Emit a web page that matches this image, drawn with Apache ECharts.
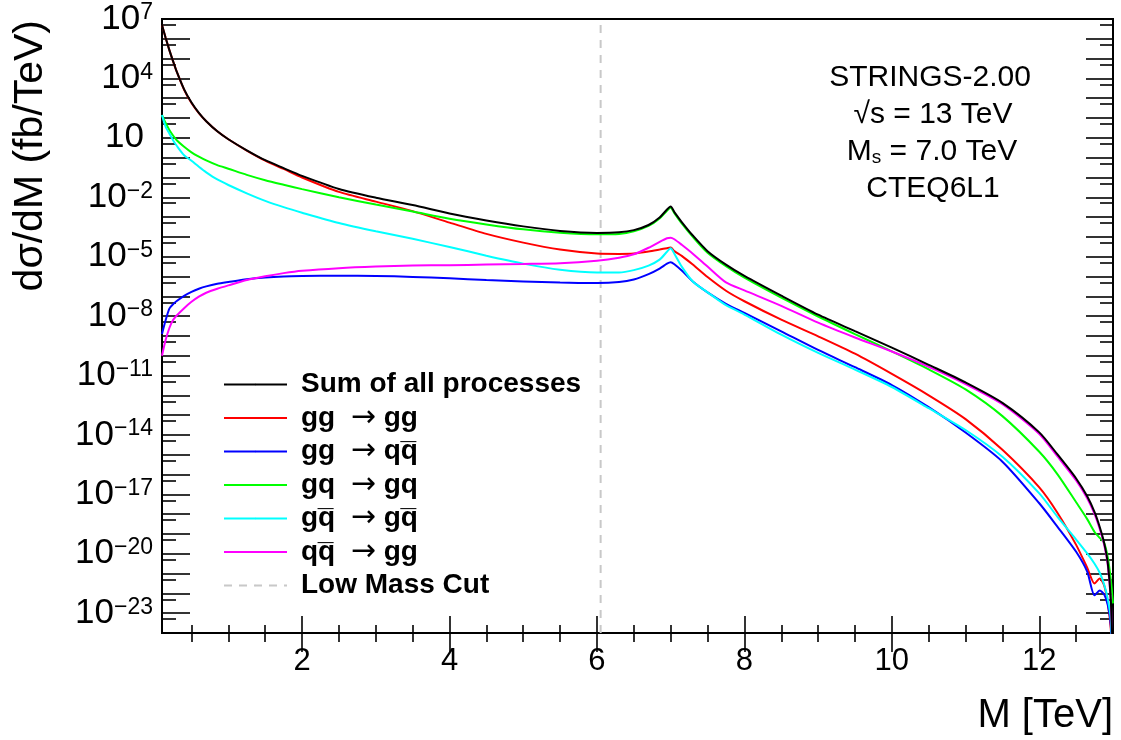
<!DOCTYPE html>
<html>
<head>
<meta charset="utf-8">
<title>String resonances: dσ/dM</title>
<script src="https://cdn.jsdelivr.net/npm/echarts@6/dist/echarts.min.js"></script>
<style>
  html, body { margin: 0; padding: 0; background: #fff; }
  #chart { width: 1121px; height: 740px; }
</style>
</head>
<body>
<div id="chart"></div>
<script>
// Dijet invariant-mass spectrum for string resonances (log10 of dσ/dM in fb/TeV)
const massTeV = [0.1, 0.15, 0.2, 0.25, 0.3, 0.4, 0.5, 0.6, 0.7, 0.85,
  1.0, 1.25, 1.5, 1.75, 2.0, 2.5, 3.0, 3.5, 4.0, 4.5,
  5.0, 5.5, 6.0, 6.3, 6.5, 6.7, 6.85, 6.95, 7.0, 7.05,
  7.15, 7.3, 7.5, 7.75, 8.0, 8.5, 9.0, 9.5, 10.0, 10.5,
  11.0, 11.5, 12.0, 12.25, 12.5, 12.65, 12.75, 12.82, 12.88, 12.93,
  12.97, 13.0];

const logSum = [6.70, 6.04, 5.43, 4.87, 4.34, 3.45, 2.78, 2.26, 1.84, 1.33,
  0.93, 0.37, -0.13, -0.53, -0.92, -1.58, -2.02, -2.39, -2.82, -3.17,
  -3.47, -3.70, -3.80, -3.77, -3.66, -3.40, -3.02, -2.62, -2.47, -2.75,
  -3.25, -3.93, -4.72, -5.40, -5.97, -6.97, -7.93, -8.76, -9.59, -10.46,
  -11.35, -12.38, -13.87, -15.0, -16.2, -17.1, -17.9, -18.65, -19.45, -20.5,
  -22.3, -25.5];

const logGgGg = [6.70, 6.04, 5.43, 4.87, 4.34, 3.43, 2.76, 2.25, 1.84, 1.33,
  0.93, 0.36, -0.15, -0.57, -1.00, -1.73, -2.22, -2.70, -3.28, -3.85,
  -4.29, -4.64, -4.84, -4.86, -4.84, -4.74, -4.64, -4.57, -4.54, -4.72,
  -4.96, -5.40, -6.03, -6.72, -7.25, -8.18, -9.02, -9.90, -10.92, -12.0,
  -13.2, -14.75, -16.65, -17.95, -19.55, -20.7, -21.5, -21.25, -21.6, -22.5,
  -23.8, -26.0];

const logGgQqbar = [-8.90, -8.20, -7.62, -7.40, -7.24, -6.98, -6.78, -6.62, -6.50, -6.37,
  -6.28, -6.14, -6.05, -6.00, -5.98, -5.96, -5.97, -6.02, -6.09, -6.18,
  -6.25, -6.31, -6.33, -6.28, -6.15, -5.88, -5.60, -5.35, -5.28, -5.38,
  -5.70, -6.25, -6.80, -7.38, -7.84, -8.77, -9.71, -10.58, -11.48, -12.6,
  -13.88, -15.35, -17.45, -18.65, -19.9, -20.9, -22.1, -21.85, -22.05, -22.6,
  -23.6, -26.0];

const logGqGq = [2.15, 1.75, 1.40, 1.12, 0.88, 0.55, 0.27, 0.05, -0.14, -0.38,
  -0.56, -0.87, -1.14, -1.37, -1.59, -2.00, -2.37, -2.72, -3.08, -3.37,
  -3.62, -3.79, -3.87, -3.85, -3.72, -3.45, -3.07, -2.68, -2.53, -2.80,
  -3.32, -4.00, -4.80, -5.48, -6.06, -7.07, -8.02, -8.91, -9.78, -10.69,
  -11.70, -13.05, -14.85, -16.0, -17.4, -18.25, -18.9, -19.2, -19.45, -20.2,
  -21.3, -22.5];

const logGqbarGqbar = [2.15, 1.55, 1.22, 0.88, 0.60, 0.12, -0.16, -0.46, -0.74, -1.10,
  -1.38, -1.80, -2.18, -2.50, -2.78, -3.30, -3.72, -4.10, -4.51, -4.95,
  -5.35, -5.66, -5.80, -5.80, -5.68, -5.45, -5.15, -4.75, -4.58, -4.85,
  -5.50, -6.25, -6.80, -7.45, -7.92, -8.94, -9.86, -10.70, -11.58, -12.65,
  -13.75, -15.1, -16.95, -18.15, -19.28, -19.98, -20.5, -20.96, -21.55, -22.3,
  -23.3, -26.0];

const logQqbarGg = [-10.0, -9.2, -8.6, -8.2, -7.97, -7.6, -7.28, -7.02, -6.82, -6.62,
  -6.45, -6.18, -5.99, -5.83, -5.71, -5.58, -5.50, -5.45, -5.43, -5.40,
  -5.37, -5.33, -5.20, -5.05, -4.88, -4.55, -4.25, -4.07, -4.04, -4.12,
  -4.40, -4.85, -5.50, -6.30, -6.70, -7.48, -8.33, -9.08, -9.79, -10.56,
  -11.43, -12.45, -13.95, -15.1, -16.3, -17.2, -18.0, -18.75, -19.55, -20.6,
  -22.4, -25.6];

const lowMassCut = 6.05;          // TeV
const yDecadeMin = -24, yDecadeMax = 7;
const xTickValues = [2, 4, 6, 8, 10, 12];
const yLabelDecades = [7, 4, 1, -2, -5, -8, -11, -14, -17, -20, -23];

const FONT = '"Liberation Sans", Arial, Helvetica, sans-serif';

function range(a, b, step) {
  const out = [];
  for (let v = a; v <= b + 1e-9; v += step) out.push(Math.round(v * 1000) / 1000);
  return out;
}
const yMajorTicks = range(yDecadeMin, yDecadeMax, 1).map(e => Math.pow(10, e));
const yMinorTicks = range(yDecadeMin + 1, yDecadeMax, 1).map(e => 5 * Math.pow(10, e - 1));
const xMinorTicks = range(0.5, 12.5, 0.5).filter(v => v % 2 !== 0);

const toSeries = (logs) => massTeV.map((m, i) => [m, Math.pow(10, logs[i])]);

function yLabel(v) {
  const e = Math.round(Math.log10(v));
  if (e === 1) return '{p|10}';
  return '{b|10}{e|' + String(e).replace('-', '\u2212') + '}';
}

const curves = [
  { name: 'gg  \u2192 gg', logs: logGgGg, color: '#ff0000' },
  { name: 'gg  \u2192 qq\u0305', logs: logGgQqbar, color: '#0000ff' },
  { name: 'gq  \u2192 gq', logs: logGqGq, color: '#00ff00' },
  { name: 'gq\u0305  \u2192 gq\u0305', logs: logGqbarGqbar, color: '#00ffff' },
  { name: 'qq\u0305  \u2192 gg', logs: logQqbarGg, color: '#ff00ff' },
  { name: 'Sum of all processes', logs: logSum, color: '#000000' }
];

const series = [{
  name: 'Low Mass Cut',
  type: 'line',
  symbol: 'none',
  silent: true,
  data: [[lowMassCut, Math.pow(10, yDecadeMin)], [lowMassCut, Math.pow(10, yDecadeMax)]],
  lineStyle: { color: '#c8c8c8', width: 2, type: [8, 7] },
  itemStyle: { color: '#c8c8c8' },
  z: 1
}].concat(curves.map(c => ({
  name: c.name,
  type: 'line',
  symbol: 'none',
  smooth: 0.25,
  clip: true,
  data: toSeries(c.logs),
  lineStyle: { color: c.color, width: 2 },
  itemStyle: { color: c.color },
  z: 2
})));

const tickStyle = { color: '#000', width: 1.6 };
const noLine = { show: false };

function xAxisDef(position, values, length, withLabels) {
  return {
    type: 'value', min: 0.1, max: 13, position,
    axisLine: noLine, splitLine: noLine,
    axisTick: { show: true, inside: true, length, customValues: values, lineStyle: tickStyle },
    axisLabel: withLabels ? {
      show: true, customValues: values, margin: 13,
      fontFamily: FONT, fontSize: 31, color: '#000'
    } : { show: false }
  };
}
function yAxisDef(position, values, length, withLabels) {
  return {
    type: 'log', logBase: 10, min: Math.pow(10, yDecadeMin), max: Math.pow(10, yDecadeMax), position,
    axisLine: noLine, splitLine: noLine, minorTick: { show: false },
    axisTick: { show: true, inside: true, length, customValues: values, lineStyle: tickStyle },
    axisLabel: withLabels ? {
      show: true, margin: 9,
      customValues: yLabelDecades.map(e => Math.pow(10, e)),
      formatter: yLabel,
      rich: {
        b: { fontFamily: FONT, fontSize: 35, color: '#000', lineHeight: 35, padding: [6, 0, 0, 0], verticalAlign: 'bottom' },
        e: { fontFamily: FONT, fontSize: 23, color: '#000', lineHeight: 23, verticalAlign: 'top' },
        p: { fontFamily: FONT, fontSize: 35, color: '#000', lineHeight: 35, padding: [6, 9, 0, 0], verticalAlign: 'bottom' }
      }
    } : { show: false }
  };
}

const option = {
  animation: false,
  backgroundColor: '#ffffff',
  grid: {
    left: 162, right: 8, top: 19, bottom: 107,
    show: true, borderColor: '#000', borderWidth: 2, backgroundColor: 'transparent',
    containLabel: false, outerBoundsMode: 'none'
  },
  xAxis: [
    xAxisDef('bottom', xTickValues, 17, true),
    xAxisDef('bottom', xMinorTicks, 8, false),
    xAxisDef('top', xTickValues, 19, false),
    xAxisDef('top', xMinorTicks, 9, false)
  ],
  yAxis: [
    yAxisDef('left', yMajorTicks, 28, true),
    yAxisDef('left', yMinorTicks, 14, false),
    yAxisDef('right', yMajorTicks, 27, false),
    yAxisDef('right', yMinorTicks, 13, false)
  ],
  legend: {
    orient: 'vertical', left: 223, top: 368, padding: 0,
    itemWidth: 63, itemHeight: 2, itemGap: 0.5,
    selectedMode: false,
    data: ['Sum of all processes'].concat(curves.slice(0, 5).map(c => c.name), ['Low Mass Cut']),
    formatter: name => name.replace('\u2192', '{a|\u2192}'),
    textStyle: {
      fontFamily: FONT, fontSize: 28, fontWeight: 'bold', color: '#000', lineHeight: 33, padding: [0, 0, 0, 9],
      rich: { a: { fontFamily: '"DejaVu Sans"', fontWeight: 'normal', fontSize: 30, color: '#000', lineHeight: 33 } }
    }
  },
  graphic: [
    { type: 'text', x: 31, y: 20, rotation: Math.PI / 2,
      style: { text: 'd\u03c3/dM (fb/TeV)', fontFamily: FONT, fontSize: 41, fill: '#000', align: 'right', verticalAlign: 'middle' } },
    { type: 'text', x: 1113, y: 716,
      style: { text: 'M [TeV]', fontFamily: FONT, fontSize: 40, fill: '#000', align: 'right', verticalAlign: 'middle' } },
    { type: 'text', x: 930, y: 78,
      style: { text: 'STRINGS-2.00', fontFamily: FONT, fontSize: 30, fill: '#000', align: 'center', verticalAlign: 'middle' } },
    { type: 'text', x: 933, y: 115,
      style: { text: '\u221As = 13 TeV', fontFamily: FONT, fontSize: 30, fill: '#000', align: 'center', verticalAlign: 'middle' } },
    { type: 'text', x: 932, y: 152,
      style: { text: 'M{s|s} = 7.0 TeV', fontFamily: FONT, fontSize: 30, fill: '#000', align: 'center', verticalAlign: 'middle',
        rich: { s: { fontFamily: FONT, fontSize: 19, fill: '#000', lineHeight: 19, padding: [12, 0, 0, 0], verticalAlign: 'bottom' } } } },
    { type: 'text', x: 933, y: 189,
      style: { text: 'CTEQ6L1', fontFamily: FONT, fontSize: 30, fill: '#000', align: 'center', verticalAlign: 'middle' } }
  ],
  series: series.map(s => Object.assign(s, { xAxisIndex: 0, yAxisIndex: 0 }))
};

const chart = echarts.init(document.getElementById('chart'), null, { renderer: 'canvas' });
chart.setOption(option);
</script>
</body>
</html>
